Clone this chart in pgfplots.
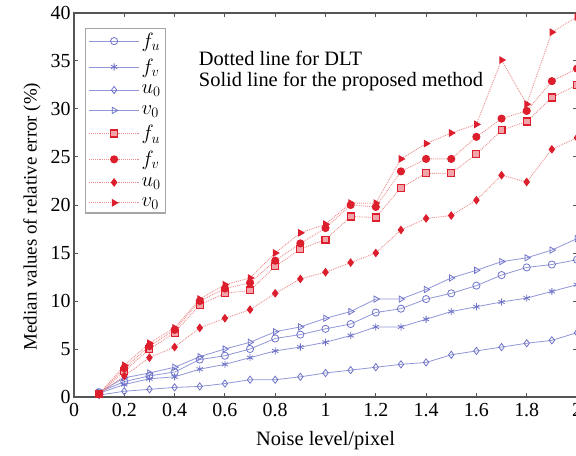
\documentclass[border=0pt]{standalone}
\usepackage{fontspec}
\setmainfont{Liberation Serif}
\usepackage{pgfplots}
\pgfplotsset{compat=1.18}
\usepackage{pgfplotstable}
\usetikzlibrary{calc}

\definecolor{dltblue}{RGB}{110,115,200}
\definecolor{dltline}{RGB}{145,150,215}
\definecolor{propred}{RGB}{220,30,45}
\definecolor{dotpink}{RGB}{235,140,140}
\definecolor{axgray}{RGB}{85,85,85}

% median relative error (%) against noise level (pixel)
% b* = DLT, r* = proposed method
\pgfplotstableread{
x   bfu  bfv  bu0  bv0  rfu  rfv  ru0  rv0
0.1 0.5  0.4  0.2  0.5  0.3  0.3  0.3  0.3
0.2 1.6  1.3  0.6  2.0  2.7  3.0  2.2  3.3
0.3 2.2  1.9  0.8  2.5  5.0  5.3  4.1  5.6
0.4 2.6  2.1  1.0  3.1  6.7  7.0  5.2  7.2
0.5 3.9  2.9  1.1  4.2  9.6  10.0 7.2  10.2
0.6 4.3  3.4  1.4  5.0  10.8 11.3 8.2  11.7
0.7 5.0  4.1  1.8  5.7  11.1 11.9 9.1  12.4
0.8 6.1  4.8  1.8  6.8  13.6 14.2 10.8 15.0
0.9 6.5  5.2  2.1  7.3  15.4 16.0 12.3 17.1
1.0 7.1  5.7  2.5  8.2  16.4 17.6 13.0 18.0
1.1 7.6  6.4  2.8  8.9  18.8 20.0 14.0 20.2
1.2 8.8  7.3  3.1  10.2 18.7 19.8 15.0 20.2
1.3 9.2  7.3  3.4  10.2 21.8 23.5 17.4 24.8
1.4 10.2 8.1  3.6  11.2 23.3 24.8 18.6 26.4
1.5 10.8 8.9  4.4  12.4 23.3 24.8 18.9 27.5
1.6 11.6 9.4  4.8  13.2 25.3 27.1 20.5 28.4
1.7 12.7 9.9  5.2  14.1 27.8 29.0 23.1 35.1
1.8 13.5 10.3 5.6  14.5 28.7 29.8 22.4 30.5
1.9 13.8 11.0 5.9  15.3 31.2 32.9 25.8 38.0
2.0 14.3 11.7 6.7  16.5 32.5 34.2 27.0 39.6
}\errdata

\begin{document}
\begin{tikzpicture}
\begin{axis}[
    name=ax,
    scale only axis,
    width=503bp, height=384bp,
    xmin=0, xmax=2, ymin=0, ymax=40,
    xtick={0,0.2,0.4,0.6,0.8,1,1.2,1.4,1.6,1.8,2},
    xticklabels={0,0.2,0.4,0.6,0.8,1,1.2,1.4,1.6,1.8,2},
    ytick={0,5,10,15,20,25,30,35,40},
    tick align=inside,
    major tick length=4bp,
    tick style={axgray, line width=1bp},
    axis line style={axgray, line width=1.3bp},
    /pgf/number format/assume math mode=true,
    ticklabel style={font=\fontsize{20}{24}\selectfont},
    xticklabel style={yshift=-3bp},
    xlabel={Noise level/pixel},
    xlabel style={font=\fontsize{20.5}{24}\selectfont, yshift=-7bp},
    ylabel={Median values of relative error (\%)},
    ylabel style={font=\fontsize{19}{22}\selectfont, at={(ticklabel cs:0.47)}, yshift=3bp},
    legend cell align=left,
    legend style={at={(0.022,0.962)}, anchor=north west,
        draw=gray!70, line width=1.2bp, fill=white,
        font=\fontsize{20}{22}\selectfont,
        row sep=6bp, inner xsep=3bp, inner ysep=3bp},
    legend image code/.code={
        \draw[mark repeat=2, mark phase=2]
        plot coordinates {(0bp,0bp) (25bp,0bp) (50bp,0bp)};},
    blue line/.style={dltline, line width=0.8bp},
    bmark/.style={mark options={solid, dltblue, line width=0.8bp, scale=1.8, #1}},
    bmark/.default={},
    red line/.style={dotpink, densely dotted, line width=0.9bp},
    rmark/.style={mark options={solid, propred, fill=propred, line width=1.1bp, scale=1.75, #1}},
    rmark/.default={},
]
\addplot[blue line, mark=o, bmark] table[x=x, y=bfu] {\errdata};
\addplot[blue line, mark=asterisk, bmark] table[x=x, y=bfv] {\errdata};
\addplot[blue line, mark=diamond, bmark] table[x=x, y=bu0] {\errdata};
\addplot[blue line, mark=triangle, bmark={rotate=-90}] table[x=x, y=bv0] {\errdata};
\addplot[red line, mark=square*, rmark={fill=propred!40}] table[x=x, y=rfu] {\errdata};
\addplot[red line, mark=*, rmark] table[x=x, y=rfv] {\errdata};
\addplot[red line, mark=diamond*, rmark] table[x=x, y=ru0] {\errdata};
\addplot[red line, mark=triangle*, rmark={rotate=-90}] table[x=x, y=rv0] {\errdata};
\legend{$f_u$, $f_v$, $u_0$, $v_0$, $f_u$, $f_v$, $u_0$, $v_0$}
\node[anchor=west, fill=white, align=left, inner sep=2bp,
      font=\fontsize{20.5}{22}\selectfont]
    at (rel axis cs:0.244,0.849)
    {Dotted line for DLT\\Solid line for the proposed method};
\end{axis}
\pgfresetboundingbox
\path[use as bounding box] ($(ax.south west)+(-74bp,-59bp)$) rectangle ($(ax.north east)+(-1bp,13bp)$);
\end{tikzpicture}
\end{document}
